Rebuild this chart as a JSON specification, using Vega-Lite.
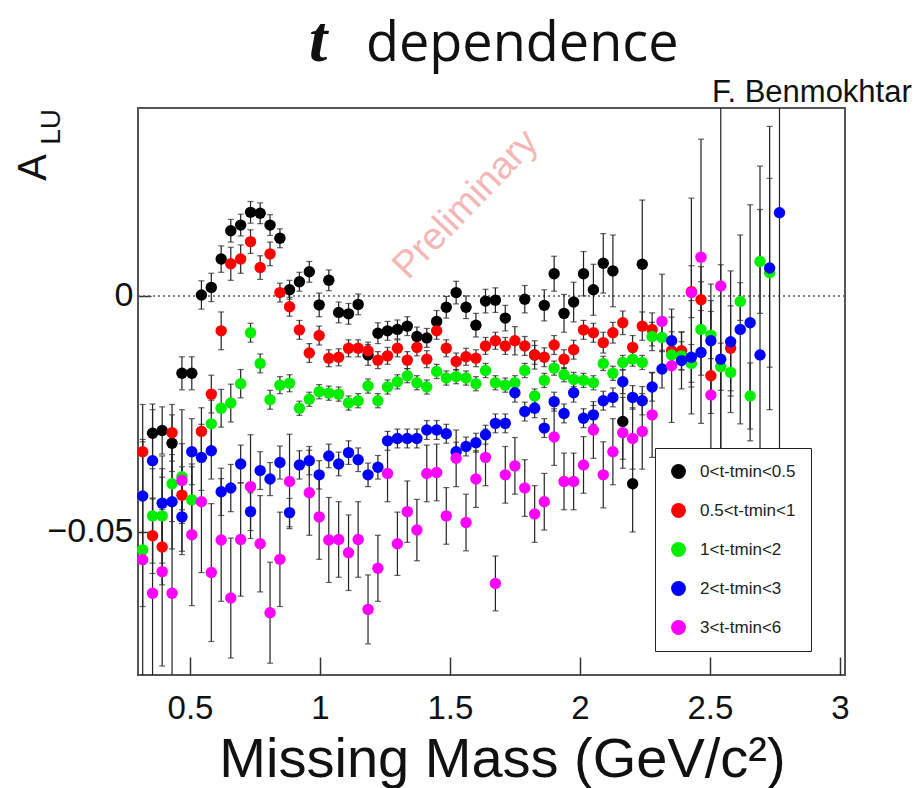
{
"$schema":"https://vega.github.io/schema/vega-lite/v6.json",
"width":707,"height":567,
"autosize":{"type":"none"},
"padding":{"left":138,"top":108,"right":79,"bottom":113},
"background":"white",
"config":{"view":{"stroke":"#555","strokeWidth":2},"font":"Liberation Sans"},
"datasets":{"pts":[
{"s":"0<t-tmin<0.5","x":0.356,"y":-0.0291,"e":0.005},
{"s":"0<t-tmin<0.5","x":0.393,"y":-0.0285,"e":0.005},
{"s":"0<t-tmin<0.5","x":0.431,"y":-0.0312,"e":0.006},
{"s":"0<t-tmin<0.5","x":0.469,"y":-0.0164,"e":0.0035},
{"s":"0<t-tmin<0.5","x":0.507,"y":-0.0164,"e":0.0035},
{"s":"0<t-tmin<0.5","x":0.544,"y":0.0002,"e":0.003},
{"s":"0<t-tmin<0.5","x":0.582,"y":0.0018,"e":0.003},
{"s":"0<t-tmin<0.5","x":0.620,"y":0.0078,"e":0.0028},
{"s":"0<t-tmin<0.5","x":0.657,"y":0.0138,"e":0.0024},
{"s":"0<t-tmin<0.5","x":0.695,"y":0.0150,"e":0.0023},
{"s":"0<t-tmin<0.5","x":0.733,"y":0.0177,"e":0.0023},
{"s":"0<t-tmin<0.5","x":0.770,"y":0.0175,"e":0.0022},
{"s":"0<t-tmin<0.5","x":0.808,"y":0.0150,"e":0.0022},
{"s":"0<t-tmin<0.5","x":0.846,"y":0.0122,"e":0.002},
{"s":"0<t-tmin<0.5","x":0.883,"y":0.0013,"e":0.002},
{"s":"0<t-tmin<0.5","x":0.921,"y":0.0030,"e":0.002},
{"s":"0<t-tmin<0.5","x":0.959,"y":0.0051,"e":0.0022},
{"s":"0<t-tmin<0.5","x":0.997,"y":-0.0019,"e":0.0025},
{"s":"0<t-tmin<0.5","x":1.034,"y":0.0033,"e":0.0022},
{"s":"0<t-tmin<0.5","x":1.072,"y":-0.0035,"e":0.0022},
{"s":"0<t-tmin<0.5","x":1.110,"y":-0.0038,"e":0.0022},
{"s":"0<t-tmin<0.5","x":1.147,"y":-0.0018,"e":0.0022},
{"s":"0<t-tmin<0.5","x":1.185,"y":-0.0125,"e":0.0022},
{"s":"0<t-tmin<0.5","x":1.223,"y":-0.0079,"e":0.0022},
{"s":"0<t-tmin<0.5","x":1.260,"y":-0.0074,"e":0.002},
{"s":"0<t-tmin<0.5","x":1.298,"y":-0.0071,"e":0.002},
{"s":"0<t-tmin<0.5","x":1.336,"y":-0.0064,"e":0.002},
{"s":"0<t-tmin<0.5","x":1.373,"y":-0.0086,"e":0.002},
{"s":"0<t-tmin<0.5","x":1.411,"y":-0.0089,"e":0.002},
{"s":"0<t-tmin<0.5","x":1.449,"y":-0.0054,"e":0.0023},
{"s":"0<t-tmin<0.5","x":1.486,"y":-0.0024,"e":0.0023},
{"s":"0<t-tmin<0.5","x":1.524,"y":0.0007,"e":0.0024},
{"s":"0<t-tmin<0.5","x":1.562,"y":-0.0024,"e":0.0024},
{"s":"0<t-tmin<0.5","x":1.600,"y":-0.0062,"e":0.0025},
{"s":"0<t-tmin<0.5","x":1.637,"y":-0.0011,"e":0.0025},
{"s":"0<t-tmin<0.5","x":1.675,"y":-0.0009,"e":0.0026},
{"s":"0<t-tmin<0.5","x":1.713,"y":-0.0047,"e":0.0027},
{"s":"0<t-tmin<0.5","x":1.788,"y":-0.0007,"e":0.0029},
{"s":"0<t-tmin<0.5","x":1.826,"y":-0.0125,"e":0.003},
{"s":"0<t-tmin<0.5","x":1.863,"y":-0.0020,"e":0.0033},
{"s":"0<t-tmin<0.5","x":1.901,"y":0.0047,"e":0.0037},
{"s":"0<t-tmin<0.5","x":1.939,"y":-0.0037,"e":0.004},
{"s":"0<t-tmin<0.5","x":1.976,"y":-0.0013,"e":0.0042},
{"s":"0<t-tmin<0.5","x":2.014,"y":0.0047,"e":0.0047},
{"s":"0<t-tmin<0.5","x":2.052,"y":0.0013,"e":0.0054},
{"s":"0<t-tmin<0.5","x":2.090,"y":0.0069,"e":0.0063},
{"s":"0<t-tmin<0.5","x":2.127,"y":0.0053,"e":0.0076},
{"s":"0<t-tmin<0.5","x":2.165,"y":-0.0266,"e":0.008},
{"s":"0<t-tmin<0.5","x":2.203,"y":-0.0398,"e":0.0102},
{"s":"0<t-tmin<0.5","x":2.240,"y":0.0067,"e":0.0136},
{"s":"0.5<t-tmin<1","x":0.318,"y":-0.0330,"e":0.01},
{"s":"0.5<t-tmin<1","x":0.356,"y":-0.0508,"e":0.008},
{"s":"0.5<t-tmin<1","x":0.393,"y":-0.0532,"e":0.008},
{"s":"0.5<t-tmin<1","x":0.431,"y":-0.0290,"e":0.006},
{"s":"0.5<t-tmin<1","x":0.469,"y":-0.0422,"e":0.006},
{"s":"0.5<t-tmin<1","x":0.544,"y":-0.0287,"e":0.005},
{"s":"0.5<t-tmin<1","x":0.582,"y":-0.0208,"e":0.004},
{"s":"0.5<t-tmin<1","x":0.620,"y":-0.0074,"e":0.004},
{"s":"0.5<t-tmin<1","x":0.657,"y":0.0068,"e":0.0035},
{"s":"0.5<t-tmin<1","x":0.695,"y":0.0078,"e":0.003},
{"s":"0.5<t-tmin<1","x":0.733,"y":0.0115,"e":0.0025},
{"s":"0.5<t-tmin<1","x":0.770,"y":0.0060,"e":0.0025},
{"s":"0.5<t-tmin<1","x":0.808,"y":0.0089,"e":0.0025},
{"s":"0.5<t-tmin<1","x":0.846,"y":0.0007,"e":0.002},
{"s":"0.5<t-tmin<1","x":0.883,"y":-0.0023,"e":0.002},
{"s":"0.5<t-tmin<1","x":0.921,"y":-0.0072,"e":0.002},
{"s":"0.5<t-tmin<1","x":0.959,"y":-0.0121,"e":0.002},
{"s":"0.5<t-tmin<1","x":0.997,"y":-0.0084,"e":0.002},
{"s":"0.5<t-tmin<1","x":1.034,"y":-0.0132,"e":0.0018},
{"s":"0.5<t-tmin<1","x":1.072,"y":-0.0130,"e":0.0018},
{"s":"0.5<t-tmin<1","x":1.110,"y":-0.0111,"e":0.0018},
{"s":"0.5<t-tmin<1","x":1.147,"y":-0.0111,"e":0.0018},
{"s":"0.5<t-tmin<1","x":1.185,"y":-0.0116,"e":0.0018},
{"s":"0.5<t-tmin<1","x":1.223,"y":-0.0136,"e":0.0018},
{"s":"0.5<t-tmin<1","x":1.260,"y":-0.0127,"e":0.0018},
{"s":"0.5<t-tmin<1","x":1.298,"y":-0.0111,"e":0.0018},
{"s":"0.5<t-tmin<1","x":1.336,"y":-0.0136,"e":0.0018},
{"s":"0.5<t-tmin<1","x":1.373,"y":-0.0109,"e":0.0018},
{"s":"0.5<t-tmin<1","x":1.411,"y":-0.0134,"e":0.0018},
{"s":"0.5<t-tmin<1","x":1.449,"y":-0.0074,"e":0.0018},
{"s":"0.5<t-tmin<1","x":1.486,"y":-0.0111,"e":0.0018},
{"s":"0.5<t-tmin<1","x":1.524,"y":-0.0139,"e":0.0018},
{"s":"0.5<t-tmin<1","x":1.562,"y":-0.0129,"e":0.0018},
{"s":"0.5<t-tmin<1","x":1.600,"y":-0.0132,"e":0.0018},
{"s":"0.5<t-tmin<1","x":1.637,"y":-0.0106,"e":0.0018},
{"s":"0.5<t-tmin<1","x":1.675,"y":-0.0095,"e":0.0018},
{"s":"0.5<t-tmin<1","x":1.713,"y":-0.0106,"e":0.0018},
{"s":"0.5<t-tmin<1","x":1.750,"y":-0.0095,"e":0.003},
{"s":"0.5<t-tmin<1","x":1.788,"y":-0.0106,"e":0.002},
{"s":"0.5<t-tmin<1","x":1.826,"y":-0.0125,"e":0.002},
{"s":"0.5<t-tmin<1","x":1.863,"y":-0.0130,"e":0.002},
{"s":"0.5<t-tmin<1","x":1.901,"y":-0.0104,"e":0.002},
{"s":"0.5<t-tmin<1","x":1.939,"y":-0.0134,"e":0.002},
{"s":"0.5<t-tmin<1","x":1.976,"y":-0.0114,"e":0.002},
{"s":"0.5<t-tmin<1","x":2.014,"y":-0.0072,"e":0.002},
{"s":"0.5<t-tmin<1","x":2.052,"y":-0.0078,"e":0.002},
{"s":"0.5<t-tmin<1","x":2.090,"y":-0.0099,"e":0.0022},
{"s":"0.5<t-tmin<1","x":2.127,"y":-0.0078,"e":0.0022},
{"s":"0.5<t-tmin<1","x":2.165,"y":-0.0057,"e":0.0025},
{"s":"0.5<t-tmin<1","x":2.203,"y":-0.0109,"e":0.0025},
{"s":"0.5<t-tmin<1","x":2.240,"y":-0.0064,"e":0.003},
{"s":"0.5<t-tmin<1","x":2.278,"y":-0.0071,"e":0.0035},
{"s":"0.5<t-tmin<1","x":2.353,"y":-0.0116,"e":0.004},
{"s":"0.5<t-tmin<1","x":2.391,"y":-0.0116,"e":0.004},
{"s":"0.5<t-tmin<1","x":2.429,"y":0.0009,"e":0.0055},
{"s":"0.5<t-tmin<1","x":2.466,"y":-0.0008,"e":0.007},
{"s":"0.5<t-tmin<1","x":2.504,"y":-0.0169,"e":0.008},
{"s":"0.5<t-tmin<1","x":2.580,"y":-0.0111,"e":0.009},
{"s":"1<t-tmin<2","x":0.318,"y":-0.0538,"e":0.012},
{"s":"1<t-tmin<2","x":0.356,"y":-0.0466,"e":0.01},
{"s":"1<t-tmin<2","x":0.393,"y":-0.0466,"e":0.01},
{"s":"1<t-tmin<2","x":0.431,"y":-0.0398,"e":0.008},
{"s":"1<t-tmin<2","x":0.469,"y":-0.0383,"e":0.007},
{"s":"1<t-tmin<2","x":0.507,"y":-0.0432,"e":0.007},
{"s":"1<t-tmin<2","x":0.582,"y":-0.0271,"e":0.005},
{"s":"1<t-tmin<2","x":0.620,"y":-0.0238,"e":0.004},
{"s":"1<t-tmin<2","x":0.657,"y":-0.0227,"e":0.004},
{"s":"1<t-tmin<2","x":0.695,"y":-0.0186,"e":0.003},
{"s":"1<t-tmin<2","x":0.733,"y":-0.0078,"e":0.002},
{"s":"1<t-tmin<2","x":0.770,"y":-0.0143,"e":0.002},
{"s":"1<t-tmin<2","x":0.808,"y":-0.0220,"e":0.002},
{"s":"1<t-tmin<2","x":0.846,"y":-0.0189,"e":0.0018},
{"s":"1<t-tmin<2","x":0.883,"y":-0.0185,"e":0.0018},
{"s":"1<t-tmin<2","x":0.921,"y":-0.0238,"e":0.0015},
{"s":"1<t-tmin<2","x":0.959,"y":-0.0219,"e":0.0015},
{"s":"1<t-tmin<2","x":0.997,"y":-0.0203,"e":0.0015},
{"s":"1<t-tmin<2","x":1.034,"y":-0.0206,"e":0.0015},
{"s":"1<t-tmin<2","x":1.072,"y":-0.0208,"e":0.0015},
{"s":"1<t-tmin<2","x":1.110,"y":-0.0227,"e":0.0015},
{"s":"1<t-tmin<2","x":1.147,"y":-0.0222,"e":0.0015},
{"s":"1<t-tmin<2","x":1.185,"y":-0.0191,"e":0.0015},
{"s":"1<t-tmin<2","x":1.223,"y":-0.0222,"e":0.0015},
{"s":"1<t-tmin<2","x":1.260,"y":-0.0193,"e":0.0015},
{"s":"1<t-tmin<2","x":1.298,"y":-0.0182,"e":0.0015},
{"s":"1<t-tmin<2","x":1.336,"y":-0.0169,"e":0.0015},
{"s":"1<t-tmin<2","x":1.373,"y":-0.0184,"e":0.0015},
{"s":"1<t-tmin<2","x":1.411,"y":-0.0193,"e":0.0015},
{"s":"1<t-tmin<2","x":1.449,"y":-0.0160,"e":0.0015},
{"s":"1<t-tmin<2","x":1.486,"y":-0.0174,"e":0.0015},
{"s":"1<t-tmin<2","x":1.524,"y":-0.0171,"e":0.0015},
{"s":"1<t-tmin<2","x":1.562,"y":-0.0174,"e":0.0015},
{"s":"1<t-tmin<2","x":1.600,"y":-0.0186,"e":0.0015},
{"s":"1<t-tmin<2","x":1.637,"y":-0.0158,"e":0.0015},
{"s":"1<t-tmin<2","x":1.675,"y":-0.0184,"e":0.0015},
{"s":"1<t-tmin<2","x":1.713,"y":-0.0189,"e":0.0015},
{"s":"1<t-tmin<2","x":1.750,"y":-0.0184,"e":0.0015},
{"s":"1<t-tmin<2","x":1.788,"y":-0.0158,"e":0.0015},
{"s":"1<t-tmin<2","x":1.826,"y":-0.0212,"e":0.0015},
{"s":"1<t-tmin<2","x":1.863,"y":-0.0179,"e":0.0015},
{"s":"1<t-tmin<2","x":1.901,"y":-0.0153,"e":0.0015},
{"s":"1<t-tmin<2","x":1.939,"y":-0.0167,"e":0.0015},
{"s":"1<t-tmin<2","x":1.976,"y":-0.0177,"e":0.0015},
{"s":"1<t-tmin<2","x":2.014,"y":-0.0179,"e":0.0015},
{"s":"1<t-tmin<2","x":2.052,"y":-0.0184,"e":0.0015},
{"s":"1<t-tmin<2","x":2.090,"y":-0.0143,"e":0.0015},
{"s":"1<t-tmin<2","x":2.127,"y":-0.0164,"e":0.0015},
{"s":"1<t-tmin<2","x":2.165,"y":-0.0141,"e":0.0015},
{"s":"1<t-tmin<2","x":2.203,"y":-0.0134,"e":0.0015},
{"s":"1<t-tmin<2","x":2.240,"y":-0.0141,"e":0.0015},
{"s":"1<t-tmin<2","x":2.278,"y":-0.0086,"e":0.003},
{"s":"1<t-tmin<2","x":2.316,"y":-0.0088,"e":0.003},
{"s":"1<t-tmin<2","x":2.353,"y":-0.0125,"e":0.003},
{"s":"1<t-tmin<2","x":2.391,"y":-0.0127,"e":0.003},
{"s":"1<t-tmin<2","x":2.429,"y":-0.0143,"e":0.004},
{"s":"1<t-tmin<2","x":2.466,"y":-0.0071,"e":0.004},
{"s":"1<t-tmin<2","x":2.504,"y":-0.0083,"e":0.005},
{"s":"1<t-tmin<2","x":2.542,"y":-0.0150,"e":0.005},
{"s":"1<t-tmin<2","x":2.580,"y":-0.0162,"e":0.005},
{"s":"1<t-tmin<2","x":2.617,"y":-0.0012,"e":0.004},
{"s":"1<t-tmin<2","x":2.655,"y":-0.0212,"e":0.007},
{"s":"1<t-tmin<2","x":2.693,"y":0.0073,"e":0.011},
{"s":"1<t-tmin<2","x":2.730,"y":0.0049,"e":0.02},
{"s":"2<t-tmin<3","x":0.318,"y":-0.0424,"e":0.012},
{"s":"2<t-tmin<3","x":0.356,"y":-0.0349,"e":0.012},
{"s":"2<t-tmin<3","x":0.393,"y":-0.0439,"e":0.01},
{"s":"2<t-tmin<3","x":0.431,"y":-0.0436,"e":0.01},
{"s":"2<t-tmin<3","x":0.469,"y":-0.0468,"e":0.008},
{"s":"2<t-tmin<3","x":0.507,"y":-0.0330,"e":0.007},
{"s":"2<t-tmin<3","x":0.544,"y":-0.0342,"e":0.007},
{"s":"2<t-tmin<3","x":0.582,"y":-0.0328,"e":0.006},
{"s":"2<t-tmin<3","x":0.620,"y":-0.0415,"e":0.005},
{"s":"2<t-tmin<3","x":0.657,"y":-0.0407,"e":0.005},
{"s":"2<t-tmin<3","x":0.695,"y":-0.0356,"e":0.004},
{"s":"2<t-tmin<3","x":0.733,"y":-0.0457,"e":0.004},
{"s":"2<t-tmin<3","x":0.770,"y":-0.0370,"e":0.004},
{"s":"2<t-tmin<3","x":0.808,"y":-0.0388,"e":0.0035},
{"s":"2<t-tmin<3","x":0.846,"y":-0.0353,"e":0.0035},
{"s":"2<t-tmin<3","x":0.883,"y":-0.0459,"e":0.003},
{"s":"2<t-tmin<3","x":0.921,"y":-0.0358,"e":0.003},
{"s":"2<t-tmin<3","x":0.959,"y":-0.0349,"e":0.003},
{"s":"2<t-tmin<3","x":0.997,"y":-0.0379,"e":0.003},
{"s":"2<t-tmin<3","x":1.034,"y":-0.0339,"e":0.0025},
{"s":"2<t-tmin<3","x":1.072,"y":-0.0356,"e":0.0025},
{"s":"2<t-tmin<3","x":1.110,"y":-0.0332,"e":0.0025},
{"s":"2<t-tmin<3","x":1.147,"y":-0.0347,"e":0.0025},
{"s":"2<t-tmin<3","x":1.185,"y":-0.0379,"e":0.0025},
{"s":"2<t-tmin<3","x":1.223,"y":-0.0363,"e":0.0025},
{"s":"2<t-tmin<3","x":1.260,"y":-0.0307,"e":0.002},
{"s":"2<t-tmin<3","x":1.298,"y":-0.0302,"e":0.002},
{"s":"2<t-tmin<3","x":1.336,"y":-0.0302,"e":0.002},
{"s":"2<t-tmin<3","x":1.373,"y":-0.0302,"e":0.002},
{"s":"2<t-tmin<3","x":1.411,"y":-0.0284,"e":0.002},
{"s":"2<t-tmin<3","x":1.449,"y":-0.0284,"e":0.002},
{"s":"2<t-tmin<3","x":1.486,"y":-0.0292,"e":0.002},
{"s":"2<t-tmin<3","x":1.524,"y":-0.0330,"e":0.002},
{"s":"2<t-tmin<3","x":1.562,"y":-0.0319,"e":0.002},
{"s":"2<t-tmin<3","x":1.600,"y":-0.0311,"e":0.002},
{"s":"2<t-tmin<3","x":1.637,"y":-0.0294,"e":0.002},
{"s":"2<t-tmin<3","x":1.675,"y":-0.0270,"e":0.002},
{"s":"2<t-tmin<3","x":1.713,"y":-0.0270,"e":0.002},
{"s":"2<t-tmin<3","x":1.750,"y":-0.0205,"e":0.002},
{"s":"2<t-tmin<3","x":1.788,"y":-0.0245,"e":0.002},
{"s":"2<t-tmin<3","x":1.826,"y":-0.0238,"e":0.002},
{"s":"2<t-tmin<3","x":1.863,"y":-0.0280,"e":0.002},
{"s":"2<t-tmin<3","x":1.901,"y":-0.0224,"e":0.002},
{"s":"2<t-tmin<3","x":1.939,"y":-0.0249,"e":0.002},
{"s":"2<t-tmin<3","x":1.976,"y":-0.0205,"e":0.002},
{"s":"2<t-tmin<3","x":2.014,"y":-0.0259,"e":0.002},
{"s":"2<t-tmin<3","x":2.052,"y":-0.0252,"e":0.002},
{"s":"2<t-tmin<3","x":2.090,"y":-0.0222,"e":0.002},
{"s":"2<t-tmin<3","x":2.127,"y":-0.0215,"e":0.002},
{"s":"2<t-tmin<3","x":2.165,"y":-0.0182,"e":0.0025},
{"s":"2<t-tmin<3","x":2.203,"y":-0.0215,"e":0.0025},
{"s":"2<t-tmin<3","x":2.240,"y":-0.0222,"e":0.003},
{"s":"2<t-tmin<3","x":2.278,"y":-0.0193,"e":0.003},
{"s":"2<t-tmin<3","x":2.316,"y":-0.0155,"e":0.004},
{"s":"2<t-tmin<3","x":2.353,"y":-0.0095,"e":0.005},
{"s":"2<t-tmin<3","x":2.391,"y":-0.0137,"e":0.006},
{"s":"2<t-tmin<3","x":2.429,"y":-0.0130,"e":0.012},
{"s":"2<t-tmin<3","x":2.466,"y":-0.0120,"e":0.015},
{"s":"2<t-tmin<3","x":2.504,"y":-0.0095,"e":0.012},
{"s":"2<t-tmin<3","x":2.542,"y":-0.0134,"e":0.02},
{"s":"2<t-tmin<3","x":2.580,"y":-0.0097,"e":0.015},
{"s":"2<t-tmin<3","x":2.617,"y":-0.0071,"e":0.02},
{"s":"2<t-tmin<3","x":2.655,"y":-0.0057,"e":0.025},
{"s":"2<t-tmin<3","x":2.693,"y":-0.0125,"e":0.04},
{"s":"2<t-tmin<3","x":2.730,"y":0.0059,"e":0.03},
{"s":"2<t-tmin<3","x":2.768,"y":0.0176,"e":0.06},
{"s":"3<t-tmin<6","x":0.318,"y":-0.0559,"e":0.025},
{"s":"3<t-tmin<6","x":0.356,"y":-0.0630,"e":0.02},
{"s":"3<t-tmin<6","x":0.393,"y":-0.0584,"e":0.02},
{"s":"3<t-tmin<6","x":0.431,"y":-0.0630,"e":0.02},
{"s":"3<t-tmin<6","x":0.469,"y":-0.0391,"e":0.015},
{"s":"3<t-tmin<6","x":0.507,"y":-0.0506,"e":0.015},
{"s":"3<t-tmin<6","x":0.544,"y":-0.0436,"e":0.015},
{"s":"3<t-tmin<6","x":0.582,"y":-0.0586,"e":0.0146},
{"s":"3<t-tmin<6","x":0.620,"y":-0.0517,"e":0.013},
{"s":"3<t-tmin<6","x":0.657,"y":-0.0640,"e":0.0127},
{"s":"3<t-tmin<6","x":0.695,"y":-0.0516,"e":0.012},
{"s":"3<t-tmin<6","x":0.733,"y":-0.0404,"e":0.011},
{"s":"3<t-tmin<6","x":0.770,"y":-0.0525,"e":0.0102},
{"s":"3<t-tmin<6","x":0.808,"y":-0.0671,"e":0.0107},
{"s":"3<t-tmin<6","x":0.846,"y":-0.0558,"e":0.01},
{"s":"3<t-tmin<6","x":0.883,"y":-0.0393,"e":0.01},
{"s":"3<t-tmin<6","x":0.959,"y":-0.0417,"e":0.009},
{"s":"3<t-tmin<6","x":0.997,"y":-0.0468,"e":0.009},
{"s":"3<t-tmin<6","x":1.034,"y":-0.0517,"e":0.009},
{"s":"3<t-tmin<6","x":1.072,"y":-0.0516,"e":0.008},
{"s":"3<t-tmin<6","x":1.110,"y":-0.0544,"e":0.008},
{"s":"3<t-tmin<6","x":1.147,"y":-0.0516,"e":0.008},
{"s":"3<t-tmin<6","x":1.185,"y":-0.0664,"e":0.0073},
{"s":"3<t-tmin<6","x":1.223,"y":-0.0577,"e":0.007},
{"s":"3<t-tmin<6","x":1.260,"y":-0.0376,"e":0.006},
{"s":"3<t-tmin<6","x":1.298,"y":-0.0525,"e":0.0067},
{"s":"3<t-tmin<6","x":1.336,"y":-0.0457,"e":0.0065},
{"s":"3<t-tmin<6","x":1.373,"y":-0.0496,"e":0.0065},
{"s":"3<t-tmin<6","x":1.411,"y":-0.0376,"e":0.006},
{"s":"3<t-tmin<6","x":1.449,"y":-0.0374,"e":0.006},
{"s":"3<t-tmin<6","x":1.486,"y":-0.0466,"e":0.006},
{"s":"3<t-tmin<6","x":1.524,"y":-0.0344,"e":0.006},
{"s":"3<t-tmin<6","x":1.562,"y":-0.0480,"e":0.006},
{"s":"3<t-tmin<6","x":1.600,"y":-0.0388,"e":0.006},
{"s":"3<t-tmin<6","x":1.637,"y":-0.0342,"e":0.006},
{"s":"3<t-tmin<6","x":1.675,"y":-0.0609,"e":0.0058},
{"s":"3<t-tmin<6","x":1.713,"y":-0.0379,"e":0.006},
{"s":"3<t-tmin<6","x":1.750,"y":-0.0360,"e":0.006},
{"s":"3<t-tmin<6","x":1.788,"y":-0.0407,"e":0.006},
{"s":"3<t-tmin<6","x":1.826,"y":-0.0462,"e":0.006},
{"s":"3<t-tmin<6","x":1.863,"y":-0.0436,"e":0.006},
{"s":"3<t-tmin<6","x":1.901,"y":-0.0299,"e":0.006},
{"s":"3<t-tmin<6","x":1.939,"y":-0.0393,"e":0.006},
{"s":"3<t-tmin<6","x":1.976,"y":-0.0393,"e":0.006},
{"s":"3<t-tmin<6","x":2.014,"y":-0.0358,"e":0.006},
{"s":"3<t-tmin<6","x":2.052,"y":-0.0284,"e":0.006},
{"s":"3<t-tmin<6","x":2.090,"y":-0.0379,"e":0.007},
{"s":"3<t-tmin<6","x":2.127,"y":-0.0330,"e":0.007},
{"s":"3<t-tmin<6","x":2.165,"y":-0.0290,"e":0.0075},
{"s":"3<t-tmin<6","x":2.203,"y":-0.0302,"e":0.0065},
{"s":"3<t-tmin<6","x":2.240,"y":-0.0287,"e":0.008},
{"s":"3<t-tmin<6","x":2.278,"y":-0.0252,"e":0.009},
{"s":"3<t-tmin<6","x":2.316,"y":-0.0054,"e":0.01},
{"s":"3<t-tmin<6","x":2.353,"y":-0.0148,"e":0.012},
{"s":"3<t-tmin<6","x":2.429,"y":0.0007,"e":0.02},
{"s":"3<t-tmin<6","x":2.466,"y":0.0082,"e":0.025},
{"s":"3<t-tmin<6","x":2.504,"y":-0.0210,"e":0.02},
{"s":"3<t-tmin<6","x":2.542,"y":0.0021,"e":0.06}
],
"lbl":[{"t":"x"}]},
"layer":[
{"data":{"name":"lbl"},"mark":{"type":"rule","color":"#555","strokeDash":[2,3],"strokeWidth":1.5},
 "encoding":{"y":{"datum":0,"type":"quantitative","scale":{"domain":[-0.0803,0.0398],"nice":false,"zero":false}}}},
{"data":{"name":"pts"},
 "mark":{"type":"errorbar","clip":true,"color":"#222","ticks":{"size":6,"thickness":1.2},"rule":{"strokeWidth":1.2}},
 "encoding":{
  "x":{"field":"x","type":"quantitative","scale":{"domain":[0.3,3.02],"nice":false,"zero":false},
   "axis":{"values":[0.5,1,1.5,2,2.5,3],"format":"~g","tickSize":-18,"tickColor":"#333","tickWidth":1.5,"domain":false,"grid":false,
    "labelFont":"Liberation Sans","labelFontSize":33,"labelColor":"#111","labelPadding":35,"labelBaseline":"top",
    "title":"Missing Mass (GeV/c²)","titleFont":"Liberation Sans","titleFontSize":56,"titleFontWeight":"normal","titleColor":"#111",
    "titleX":364,"titleY":101,"titleBaseline":"alphabetic","titleAlign":"center","titleAngle":0}},
  "y":{"field":"y","type":"quantitative","scale":{"domain":[-0.0803,0.0398],"nice":false,"zero":false},
   "axis":{"values":[-0.05,0],"format":"~g","tickSize":-13,"tickColor":"#333","tickWidth":1.5,"domain":false,"grid":false,
    "labelFont":"Liberation Sans","labelFontSize":34,"labelColor":"#111","labelPadding":18,"labelBaseline":"middle",
    "title":"A","titleFont":"Liberation Sans","titleFontSize":40,"titleFontWeight":"normal","titleColor":"#111",
    "titleX":-93,"titleY":59,"titleAngle":-90,"titleBaseline":"alphabetic","titleAlign":"center"}},
  "yError":{"field":"e"}}},
{"data":{"name":"pts"},
 "mark":{"type":"circle","size":130,"opacity":1},
 "encoding":{
  "x":{"field":"x","type":"quantitative","scale":{"domain":[0.3,3.02],"nice":false,"zero":false}},
  "y":{"field":"y","type":"quantitative","scale":{"domain":[-0.0803,0.0398],"nice":false,"zero":false}},
  "color":{"field":"s","type":"nominal",
   "scale":{"domain":["0<t-tmin<0.5","0.5<t-tmin<1","1<t-tmin<2","2<t-tmin<3","3<t-tmin<6"],"range":["#000000","#ff0000","#00ee00","#0000ff","#ff00ff"]},
   "legend":{"title":null,"orient":"none","legendX":517,"legendY":340,"symbolType":"circle","symbolSize":220,"symbolStrokeWidth":0,"symbolOpacity":1,
    "labelFont":"Liberation Sans","labelFontSize":17,"labelColor":"#222","rowPadding":21,"padding":15,"labelOffset":13,
    "strokeColor":"#222","fillColor":"white","cornerRadius":0}}}},
{"data":{"name":"lbl"},"mark":{"type":"text","text":"Preliminary","font":"Liberation Sans","fontSize":38,"color":"#f6b6b6","angle":-46,"align":"center","baseline":"middle"},
 "encoding":{"x":{"datum":1.562,"type":"quantitative","scale":{"domain":[0.3,3.02],"nice":false,"zero":false}},
  "y":{"datum":0.0193,"type":"quantitative","scale":{"domain":[-0.0803,0.0398],"nice":false,"zero":false}}}},
{"data":{"name":"lbl"},"mark":{"type":"text","text":"t","font":"Liberation Serif","fontStyle":"italic","fontWeight":"bold","fontSize":66,"color":"#111","align":"left","baseline":"alphabetic","clip":false},
 "encoding":{"x":{"datum":0.958,"type":"quantitative","scale":{"domain":[0.3,3.02],"nice":false,"zero":false}},
  "y":{"datum":0.0498,"type":"quantitative","scale":{"domain":[-0.0803,0.0398],"nice":false,"zero":false}}}},
{"data":{"name":"lbl"},"mark":{"type":"text","text":"dependence","font":"Open Sans","fontSize":54,"color":"#111","align":"left","baseline":"alphabetic","clip":false},
 "encoding":{"x":{"datum":1.177,"type":"quantitative","scale":{"domain":[0.3,3.02],"nice":false,"zero":false}},
  "y":{"datum":0.0498,"type":"quantitative","scale":{"domain":[-0.0803,0.0398],"nice":false,"zero":false}}}},
{"data":{"name":"lbl"},"mark":{"type":"text","text":"F. Benmokhtar","font":"Liberation Sans","fontSize":31,"color":"#111","align":"right","baseline":"alphabetic","clip":false},
 "encoding":{"x":{"datum":3.277,"type":"quantitative","scale":{"domain":[0.3,3.02],"nice":false,"zero":false}},
  "y":{"datum":0.0411,"type":"quantitative","scale":{"domain":[-0.0803,0.0398],"nice":false,"zero":false}}}},
{"data":{"name":"lbl"},"mark":{"type":"text","text":"LU","font":"Liberation Sans","fontSize":28,"color":"#111","align":"center","baseline":"alphabetic","angle":-90,"clip":false},
 "encoding":{"x":{"datum":0.0,"type":"quantitative","scale":{"domain":[0.3,3.02],"nice":false,"zero":false}},
  "y":{"datum":0.0358,"type":"quantitative","scale":{"domain":[-0.0803,0.0398],"nice":false,"zero":false}}}}
]
}
